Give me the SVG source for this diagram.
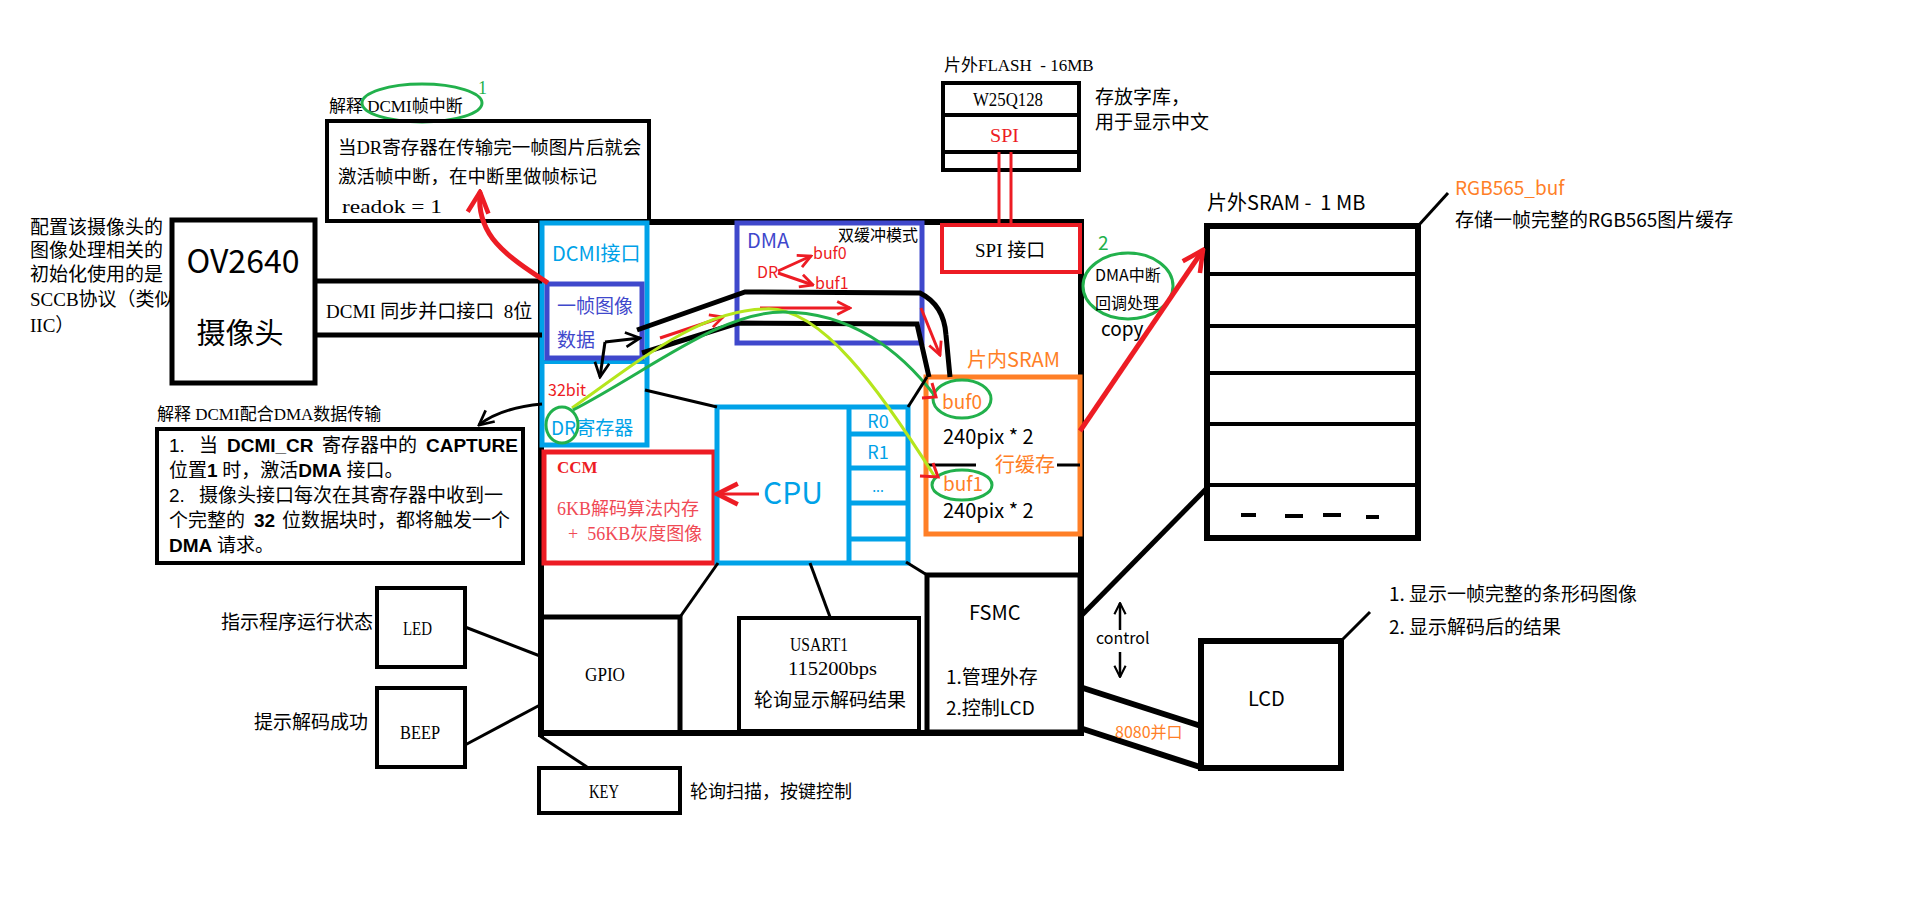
<svg xmlns="http://www.w3.org/2000/svg" width="1914" height="900" viewBox="0 0 1914 900">
<style>
text{fill:#000}
.s{font-family:"Liberation Serif","Noto Sans CJK SC",serif}
.m{font-family:"Liberation Serif","Noto Sans CJK SC",serif;font-size:19px}
.y{font-family:"Noto Sans CJK SC","Liberation Sans",sans-serif}
.b{font-family:"Liberation Sans","Noto Sans CJK SC",sans-serif;font-weight:bold}
.n{font-family:"Liberation Sans","Noto Sans CJK SC",sans-serif}
.k{fill:none;stroke:#000}
.lb{fill:none;stroke:#00a2e8;stroke-width:5}
.db{fill:none;stroke:#3f48cc;stroke-width:5}
.rd{fill:none;stroke:#ed1c24}
.or{fill:none;stroke:#ff7f27;stroke-width:5}
.gr{fill:none;stroke:#22b14c;stroke-width:3}
.lg{fill:none;stroke:#b5e61d;stroke-width:3}
</style>
<defs>
<marker id="ar" viewBox="0 0 20 20" refX="18" refY="10" markerWidth="16" markerHeight="16" markerUnits="userSpaceOnUse" orient="auto"><path d="M2,2 L18,10 L2,18" fill="none" stroke="#ed1c24" stroke-width="3.5"/></marker>
<marker id="arL" viewBox="0 0 20 20" refX="18" refY="10" markerWidth="26" markerHeight="26" markerUnits="userSpaceOnUse" orient="auto"><path d="M2,2 L18,10 L2,18" fill="none" stroke="#ed1c24" stroke-width="3.5"/></marker>
<marker id="ak" viewBox="0 0 20 20" refX="18" refY="10" markerWidth="18" markerHeight="18" markerUnits="userSpaceOnUse" orient="auto"><path d="M2,2 L18,10 L2,18" fill="none" stroke="#000" stroke-width="3"/></marker>
<marker id="akS" viewBox="0 0 20 20" refX="18" refY="10" markerWidth="14" markerHeight="14" markerUnits="userSpaceOnUse" orient="auto"><path d="M2,2 L18,10 L2,18" fill="none" stroke="#000" stroke-width="3"/></marker>
</defs>
<rect width="1914" height="900" fill="#fff"/>

<g id="mcu">
<path class="k" stroke-width="6" d="M541,222 H1081 V733 H541 Z"/>
<line class="k" stroke-width="6" x1="541" y1="733" x2="541" y2="737"/>
</g>

<g id="note-dcmi-irq">
<text class="s" x="329" y="112" font-size="17">解释 DCMI帧中断</text>
<ellipse class="gr" cx="422" cy="103" rx="60" ry="19"/>
<text class="s" x="478" y="94" font-size="18" style="fill:#22b14c">1</text>
<rect class="k" stroke-width="4" x="327" y="121" width="322" height="100"/>
<text class="s" x="338" y="154" font-size="18.5">当DR寄存器在传输完一帧图片后就会</text>
<text class="s" x="338" y="183" font-size="18.5">激活帧中断，在中断里做帧标记</text>
<text class="m" x="342" y="213" textLength="100" lengthAdjust="spacingAndGlyphs">readok = 1</text>
</g>

<g id="note-sccb">
<text class="s" font-size="19" x="30" y="234">配置该摄像头的</text>
<text class="s" font-size="19" x="30" y="257">图像处理相关的</text>
<text class="s" font-size="19" x="30" y="281">初始化使用的是</text>
<text class="s" font-size="19" x="30" y="306">SCCB协议（类似</text>
<text class="s" font-size="19" x="30" y="332">IIC）</text>
</g>

<g id="ov2640">
<rect class="k" stroke-width="5" x="172" y="220" width="143" height="163"/>
<text class="y" x="243" y="273" font-size="32" text-anchor="middle">OV2640</text>
<text class="y" x="240" y="344" font-size="29" text-anchor="middle">摄像头</text>
</g>

<g id="dcmi-bus-label">
<text class="s" x="326" y="318" font-size="19">DCMI 同步并口接口&#160; 8位</text>
</g>

<g id="dcmi">
<rect class="lb" x="542" y="223" width="105" height="222"/>
<line stroke="#00a2e8" stroke-width="4" x1="542" y1="362" x2="647" y2="362"/>
<rect class="db" x="547" y="284" width="95" height="74"/>
<text class="y" x="552" y="261" font-size="20" style="fill:#00a2e8">DCMI接口</text>
<text class="y" x="557" y="313" font-size="19" style="fill:#3f48cc">一帧图像</text>
<text class="y" x="557" y="347" font-size="19" style="fill:#3f48cc">数据</text>
<text class="y" x="548" y="396" font-size="16" style="fill:#ed1c24">32bit</text>
<text class="y" x="551" y="435" font-size="19" style="fill:#00a2e8">DR寄存器</text>
<ellipse class="gr" cx="562" cy="425" rx="16" ry="18"/>
</g>

<g id="dma">
<rect class="db" x="737" y="223" width="185" height="120"/>
<text class="y" x="747" y="248" font-size="20" style="fill:#3f48cc">DMA</text>
<text class="y" x="838" y="241" font-size="16">双缓冲模式</text>
<text class="y" x="757" y="278" font-size="16" style="fill:#ed1c24">DR</text>
<text class="y" x="813" y="259" font-size="16" style="fill:#ed1c24">buf0</text>
<text class="y" x="815" y="289" font-size="16" style="fill:#ed1c24">buf1</text>
<line class="rd" stroke-width="3" x1="778" y1="271" x2="811" y2="256" marker-end="url(#ar)"/>
<line class="rd" stroke-width="3" x1="778" y1="273" x2="813" y2="285" marker-end="url(#ar)"/>
</g>

<g id="spi-if">
<rect class="rd" stroke-width="4" x="942" y="225" width="138" height="47"/>
<text class="s" x="975" y="257" font-size="19">SPI 接口</text>
</g>

<g id="flash">
<text class="s" x="944" y="71" font-size="17">片外FLASH&#160; - 16MB</text>
<rect class="k" stroke-width="4" x="943" y="83" width="136" height="87"/>
<line class="k" stroke-width="4" x1="943" y1="115" x2="1079" y2="115"/>
<line class="k" stroke-width="4" x1="943" y1="152" x2="1079" y2="152"/>
<text class="m" x="973" y="106" textLength="70" lengthAdjust="spacingAndGlyphs">W25Q128</text>
<text class="m" x="990" y="142" textLength="29" lengthAdjust="spacingAndGlyphs" style="fill:#ed1c24">SPI</text>
<text class="s" x="1095" y="104" font-size="19">存放字库，</text>
<text class="s" x="1095" y="129" font-size="19">用于显示中文</text>
</g>

<g id="sram-in">
<text class="y" x="967" y="367" font-size="20" style="fill:#ff7f27">片内SRAM</text>
<rect class="or" x="926" y="377" width="154" height="157"/>
<text class="y" x="942" y="409" font-size="19" style="fill:#ff7f27">buf0</text>
<ellipse class="gr" cx="962" cy="399" rx="29" ry="19"/>
<text class="y" x="943" y="444" font-size="20">240pix * 2</text>
<line class="k" stroke-width="3" x1="928" y1="465" x2="976" y2="465"/>
<line class="k" stroke-width="3" x1="1057" y1="465" x2="1080" y2="465"/>
<text class="y" x="995" y="472" font-size="20" style="fill:#ff7f27">行缓存</text>
<text class="y" x="943" y="491" font-size="19" style="fill:#ff7f27">buf1</text>
<ellipse class="gr" cx="962" cy="485" rx="30" ry="15"/>
<text class="y" x="943" y="518" font-size="20">240pix * 2</text>
</g>

<g id="ccm">
<rect class="rd" stroke-width="5" x="544" y="452" width="170" height="111"/>
<text class="s" x="557" y="473" font-size="17" font-weight="bold" style="fill:#ed1c24">CCM</text>
<text class="s" x="557" y="515" font-size="18" style="fill:#f04a55">6KB解码算法内存</text>
<text class="s" x="568" y="540" font-size="18" style="fill:#f04a55">+&#160; 56KB灰度图像</text>
</g>

<g id="cpu">
<rect class="lb" x="717" y="407" width="191" height="156"/>
<line stroke="#00a2e8" stroke-width="5" x1="849" y1="407" x2="849" y2="563"/>
<line stroke="#00a2e8" stroke-width="5" x1="849" y1="434" x2="908" y2="434"/>
<line stroke="#00a2e8" stroke-width="5" x1="849" y1="468" x2="908" y2="468"/>
<line stroke="#00a2e8" stroke-width="5" x1="849" y1="503" x2="908" y2="503"/>
<line stroke="#00a2e8" stroke-width="5" x1="849" y1="539" x2="908" y2="539"/>
<text class="y" x="763" y="504" font-size="30" style="fill:#00a2e8">CPU</text>
<text class="y" x="878" y="428" font-size="18" text-anchor="middle" style="fill:#00a2e8">R0</text>
<text class="y" x="878" y="459" font-size="18" text-anchor="middle" style="fill:#00a2e8">R1</text>
<text class="y" x="878" y="492" font-size="14" text-anchor="middle" style="fill:#00a2e8">...</text>
</g>

<g id="sram-ext">
<text class="y" x="1207" y="210" font-size="20">片外SRAM -&#160; 1 MB</text>
<rect class="k" stroke-width="6" x="1207" y="226" width="211" height="312"/>
<line class="k" stroke-width="4" x1="1207" y1="274" x2="1418" y2="274"/>
<line class="k" stroke-width="4" x1="1207" y1="326" x2="1418" y2="326"/>
<line class="k" stroke-width="4" x1="1207" y1="373" x2="1418" y2="373"/>
<line class="k" stroke-width="4" x1="1207" y1="424" x2="1418" y2="424"/>
<line class="k" stroke-width="4" x1="1207" y1="485" x2="1418" y2="485"/>
<path class="k" stroke-width="4" d="M1241,515 H1256 M1285,516 H1303 M1323,515 H1341 M1366,517 H1379"/>
<text class="y" x="1455" y="195" font-size="19" style="fill:#ff7f27">RGB565_buf</text>
<text class="y" x="1455" y="227" font-size="19">存储一帧完整的RGB565图片缓存</text>
</g>

<g id="dma-irq">
<text class="y" x="1098" y="250" font-size="19" style="fill:#22b14c">2</text>
<ellipse class="gr" cx="1128" cy="286" rx="45" ry="33"/>
<text class="y" x="1095" y="281" font-size="16">DMA中断</text>
<text class="y" x="1095" y="309" font-size="16">回调处理</text>
<text class="y" x="1101" y="336" font-size="19">copy</text>
</g>

<g id="gpio">
<path class="k" stroke-width="5" d="M541,617 H680 V733"/>
<text class="m" x="585" y="681" textLength="40" lengthAdjust="spacingAndGlyphs">GPIO</text>
</g>

<g id="usart1">
<rect class="k" stroke-width="4" x="739" y="618" width="180" height="113"/>
<text class="m" x="790" y="651" textLength="58" lengthAdjust="spacingAndGlyphs">USART1</text>
<text class="m" x="788" y="675" textLength="89" lengthAdjust="spacingAndGlyphs">115200bps</text>
<text class="s" x="754" y="707" font-size="19">轮询显示解码结果</text>
</g>

<g id="fsmc">
<rect class="k" stroke-width="5" x="927" y="575" width="153" height="157"/>
<text class="y" x="969" y="620" font-size="20">FSMC</text>
<text class="y" x="946" y="684" font-size="19">1.管理外存</text>
<text class="y" x="946" y="715" font-size="19">2.控制LCD</text>
</g>

<g id="lcd">
<rect class="k" stroke-width="6" x="1201" y="641" width="140" height="127"/>
<text class="y" x="1248" y="706" font-size="20">LCD</text>
<text class="y" x="1389" y="601" font-size="19">1. 显示一帧完整的条形码图像</text>
<text class="y" x="1389" y="634" font-size="19">2. 显示解码后的结果</text>
</g>

<g id="led">
<rect class="k" stroke-width="4" x="377" y="588" width="88" height="79"/>
<text class="m" x="403" y="635" textLength="29" lengthAdjust="spacingAndGlyphs">LED</text>
<text class="s" x="221" y="629" font-size="19">指示程序运行状态</text>
</g>

<g id="beep">
<rect class="k" stroke-width="4" x="377" y="688" width="88" height="79"/>
<text class="m" x="400" y="739" textLength="40" lengthAdjust="spacingAndGlyphs">BEEP</text>
<text class="s" x="254" y="729" font-size="19">提示解码成功</text>
</g>

<g id="key">
<rect class="k" stroke-width="4" x="539" y="768" width="141" height="45"/>
<text class="m" x="589" y="798" textLength="30" lengthAdjust="spacingAndGlyphs">KEY</text>
<text class="s" x="690" y="798" font-size="18">轮询扫描，按键控制</text>
</g>

<g id="note-dcmi-dma">
<text class="s" x="157" y="420" font-size="17">解释 DCMI配合DMA数据传输</text>
<rect class="k" stroke-width="4" x="157" y="429" width="366" height="134"/>
<text class="s" font-size="19" y="452"><tspan class="n" x="169">1.</tspan><tspan x="199">当</tspan><tspan class="b" x="227">DCMI_CR</tspan><tspan x="322">寄存器中的</tspan><tspan class="b" x="426">CAPTURE</tspan></text>
<text class="s" font-size="19" y="477"><tspan x="169">位置</tspan><tspan class="b">1</tspan><tspan> 时，激活</tspan><tspan class="b">DMA</tspan><tspan> 接口。</tspan></text>
<text class="s" font-size="19" y="502"><tspan class="n" x="169">2.</tspan><tspan x="199">摄像头接口每次在其寄存器中收到一</tspan></text>
<text class="s" font-size="19" y="527"><tspan x="169">个完整的</tspan><tspan class="b" x="254">32</tspan><tspan x="282">位数据块时，都将触发一个</tspan></text>
<text class="s" font-size="19" y="552"><tspan class="b" x="169">DMA</tspan><tspan x="217">请求。</tspan></text>
</g>

<g id="connectors">
<line class="k" stroke-width="5" x1="315" y1="281" x2="542" y2="281"/>
<line class="k" stroke-width="5" x1="315" y1="335" x2="542" y2="335"/>
<path class="k" stroke-width="5" d="M637,330 L745,292 L920,293 Q944,305 946,335 L950,377"/>
<path class="k" stroke-width="5" d="M642,353 L738,323 L917,324 L929,377"/>
<line class="rd" stroke-width="3" x1="660" y1="338" x2="723" y2="317" marker-end="url(#ar)"/>
<line class="rd" stroke-width="3" x1="760" y1="308" x2="850" y2="308" marker-end="url(#ar)"/>
<line class="rd" stroke-width="3" x1="921" y1="308" x2="940" y2="355" marker-end="url(#ar)"/>
<path class="k" stroke-width="3" d="M605,342 L640,338" marker-end="url(#ak)"/>
<path class="k" stroke-width="3" d="M605,342 L600,377" marker-end="url(#ak)"/>
<path class="rd" stroke-width="5" d="M548,283 C505,255 476,235 480,192" marker-end="url(#arL)"/>
<path class="k" stroke-width="3" d="M542,404 Q500,408 479,425" marker-end="url(#ak)"/>
<path class="lg" d="M572,408 C640,360 700,310 765,309 C820,305 880,390 935,477"/>
<path class="gr" d="M573,410 C650,370 720,312 783,312 C850,312 900,350 935,396"/>
<path class="rd" stroke-width="3" d="M922,398 L936,397 L932,383"/>
<path class="rd" stroke-width="3" d="M920,476 L938,477 L933,463"/>
<line class="k" stroke-width="3" x1="645" y1="390" x2="717" y2="407"/>
<line class="k" stroke-width="3" x1="908" y1="407" x2="927" y2="377"/>
<line class="rd" stroke-width="3" x1="759" y1="494" x2="717" y2="494" marker-end="url(#arL)"/>
<line class="k" stroke-width="3" x1="680" y1="617" x2="718" y2="563"/>
<line class="k" stroke-width="3" x1="830" y1="617" x2="810" y2="563"/>
<line class="k" stroke-width="3" x1="906" y1="562" x2="927" y2="575"/>
<line class="rd" stroke-width="3" x1="999" y1="152" x2="999" y2="224"/>
<line class="rd" stroke-width="3" x1="1011" y1="152" x2="1011" y2="224"/>
<line class="rd" stroke-width="5" x1="1080" y1="431" x2="1203" y2="250" marker-end="url(#arL)"/>
<line class="k" stroke-width="3" x1="1418" y1="226" x2="1448" y2="193"/>
<line class="k" stroke-width="5" x1="1207" y1="488" x2="1082" y2="615"/>
<line class="k" stroke-width="2.5" x1="1120" y1="630" x2="1120" y2="603" marker-end="url(#akS)"/>
<text class="y" x="1096" y="644" font-size="16">control</text>
<line class="k" stroke-width="2.5" x1="1120" y1="652" x2="1120" y2="677" marker-end="url(#akS)"/>
<line class="k" stroke-width="6" x1="1083" y1="688" x2="1201" y2="726"/>
<line class="k" stroke-width="6" x1="1083" y1="729" x2="1203" y2="768"/>
<text class="y" x="1115" y="738" font-size="16" style="fill:#ff7f27">8080并口</text>
<line class="k" stroke-width="3" x1="1341" y1="641" x2="1370" y2="612"/>
<line class="k" stroke-width="3" x1="465" y1="627" x2="540" y2="656"/>
<line class="k" stroke-width="3" x1="465" y1="745" x2="540" y2="705"/>
<line class="k" stroke-width="3" x1="540" y1="736" x2="587" y2="767"/>
</g>
</svg>
